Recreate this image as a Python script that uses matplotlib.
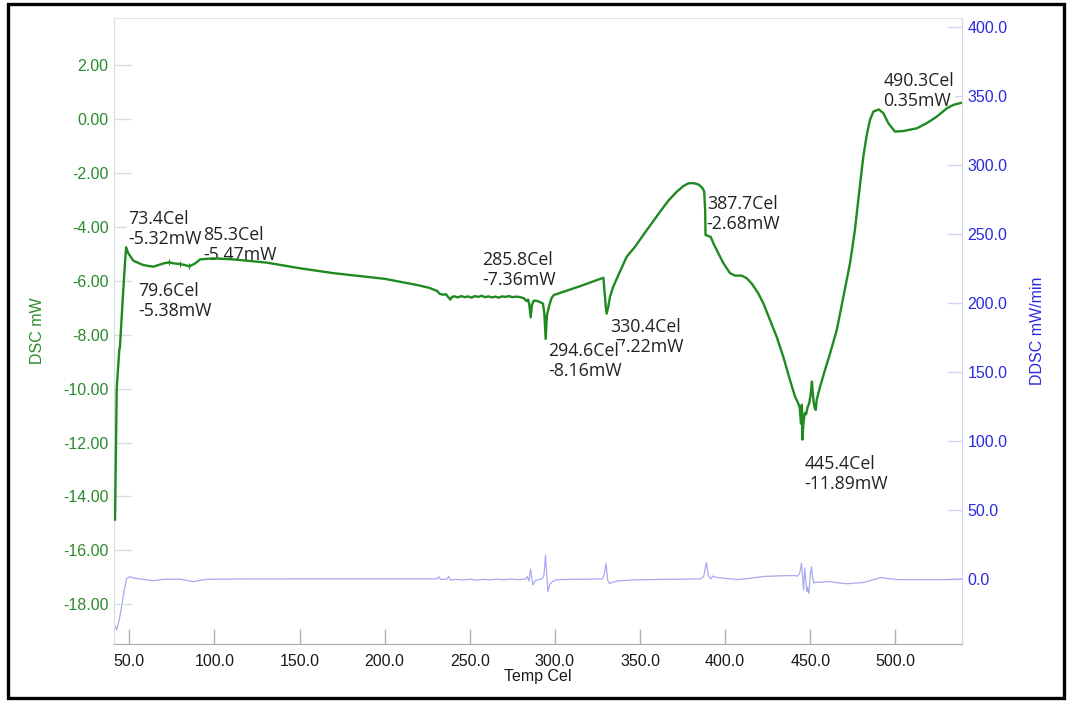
import matplotlib
matplotlib.use("Agg")
import matplotlib.pyplot as plt
from matplotlib.patches import Rectangle
from matplotlib.ticker import FixedLocator, FormatStrFormatter

# ---- DSC trace (left axis, mW) ----
dsc_temp = [41.6, 42.6, 44.1, 44.5, 46.1, 47.3, 48.1, 49.4, 52.4, 58.2, 64.1, 70.0,
            73.4, 76.5, 79.6, 82.8, 85.3, 88.6, 91.6, 99.4, 111.2, 130.8, 150.4,
            170.0, 190.0, 200.0, 209.2, 219.1, 226.0, 230.8, 232.4, 234.5, 236.0,
            237.5, 238.6, 239.5, 241.0, 243.0, 245.0, 247.0, 249.0, 251.0, 253.0,
            255.0, 257.0, 259.0, 261.0, 263.0, 265.0, 267.0, 269.0, 271.0, 273.0,
            275.0, 277.0, 279.0, 281.8, 283.3, 284.3, 285.0, 285.8, 286.5, 287.6,
            289.5, 291.6, 293.0, 293.8, 294.6, 295.3, 296.5, 298.0, 299.4, 314.0,
            328.5, 329.1, 329.9, 330.4, 331.4, 332.4, 334.3, 337.3, 342.2, 347.1,
            352.0, 356.9, 361.8, 366.7, 371.6, 375.5, 378.4, 381.3, 384.3, 386.5,
            387.7, 388.3, 388.5, 390.0, 391.6, 393.1, 396.0, 399.0, 402.9, 405.8,
            409.8, 412.7, 415.6, 419.5, 422.5, 426.4, 430.3, 434.2, 438.1, 441.1,
            443.0, 443.8, 444.3, 444.6, 444.9, 445.1, 445.4, 446.0, 446.8, 447.6,
            448.4, 449.4, 450.3, 451.0, 451.7, 452.4, 453.3, 453.8, 455.8, 458.7,
            461.7, 465.6, 469.5, 473.4, 476.2, 478.8, 481.2, 483.2, 485.1, 487.1,
            490.3, 493.0, 495.9, 499.8, 504.7, 512.6, 518.4, 524.3, 530.2, 534.1,
            539.0]
dsc_mw = [-14.87, -9.99, -8.57, -8.45, -6.71, -5.48, -4.76, -4.98, -5.26, -5.42, -5.48, -5.36,
          -5.32, -5.36, -5.38, -5.42, -5.47, -5.36, -5.21, -5.17, -5.21, -5.33, -5.54,
          -5.72, -5.86, -5.93, -6.04, -6.16, -6.26, -6.38, -6.49, -6.52, -6.50,
          -6.62, -6.70, -6.60, -6.58, -6.62, -6.57, -6.61, -6.58, -6.63, -6.57,
          -6.60, -6.56, -6.61, -6.58, -6.62, -6.59, -6.63, -6.58, -6.60, -6.57,
          -6.61, -6.59, -6.60, -6.65, -6.75, -6.70, -6.90, -7.36, -6.90, -6.74,
          -6.75, -6.80, -6.85, -7.20, -8.16, -7.30, -6.96, -6.65, -6.53, -6.22,
          -5.89, -6.35, -6.96, -7.22, -6.96, -6.59, -6.22, -5.79, -5.11, -4.74,
          -4.30, -3.87, -3.44, -3.03, -2.70, -2.49, -2.39, -2.38, -2.43, -2.55,
          -2.68, -3.40, -4.30, -4.34, -4.38, -4.61, -4.98, -5.35, -5.72, -5.81,
          -5.81, -5.91, -6.10, -6.47, -6.84, -7.46, -8.08, -8.82, -9.68, -10.30,
          -10.55, -10.70, -11.10, -11.30, -10.80, -10.60, -11.89, -11.30, -10.90, -10.95,
          -10.70, -10.55, -10.20, -9.74, -10.30, -10.67, -10.79, -10.42, -9.93, -9.31,
          -8.69, -7.83, -6.59, -5.35, -4.15, -2.70, -1.40, -0.60, -0.04, 0.27,
          0.35, 0.21, -0.16, -0.47, -0.45, -0.35, -0.16, 0.08, 0.39, 0.52,
          0.60]

# ---- DDSC trace (right axis, mW/min) ----
ddsc_temp = [41.0, 42.6, 44.0, 45.5, 47.0, 48.5, 50.4, 53.0, 58.0, 64.1, 70.0, 80.0,
             87.6, 95.0, 110.0, 150.0, 200.0, 230.8, 231.8, 232.8, 236.5, 237.6,
             238.6, 242.0, 246.0, 250.0, 254.0, 258.0, 262.0, 266.0, 270.0, 274.0,
             278.0, 282.5, 283.8, 284.8, 285.7, 286.4, 287.1, 288.5, 291.5, 292.8,
             293.6, 294.5, 295.3, 295.9, 297.0, 298.5, 301.0, 310.0, 320.0, 328.0,
             329.2, 330.0, 330.6, 331.0, 332.0, 336.7, 345.0, 360.0, 375.0, 385.7,
             387.5, 389.0, 390.2, 391.6, 392.6, 395.5, 403.4, 407.3, 415.1, 423.0,
             432.0, 440.6, 442.6, 443.8, 444.9, 445.5, 446.1, 446.8, 447.5, 448.0,
             448.4, 449.2, 450.0, 450.7, 451.4, 452.1, 452.8, 454.5, 456.3, 459.0,
             462.2, 467.0, 472.0, 477.0, 481.8, 486.0, 491.6, 496.0, 501.4, 515.0,
             530.8, 539.0]
ddsc_val = [-33.0, -37.0, -30.0, -20.0, -8.0, 0.4, 1.6, 0.5, -0.3, -1.3, -0.3, -0.2,
            -2.0, -0.3, -0.1, 0.0, 0.0, 0.0, 1.6, -0.3, -0.2, 1.8,
            -0.8, -0.3, -0.8, -0.2, -0.9, -0.3, -0.7, -0.2, -0.6, -0.1,
            -0.5, -0.2, 1.6, -1.5, 7.0, 1.0, -4.4, -1.0, -0.3, 0.5,
            3.0, 17.3, 2.0, -9.2, -4.0, -2.0, -0.6, -0.3, -0.2, 0.0,
            4.0, 11.3, 5.0, -1.0, -3.2, -1.5, -0.8, -0.4, -0.2, 0.0,
            2.0, 12.0, 2.0, 0.0, 2.0, 1.0, 0.0, -0.5, 0.5, 1.8,
            2.2, 2.5, 2.0, 4.0, 11.3, 2.0, -8.0, 8.0, -2.0, -9.0,
            -6.0, -10.5, 2.0, 8.9, 1.0, -3.0, -2.5, -2.5, -2.5, -2.0,
            -2.0, -3.0, -3.5, -3.0, -2.5, -1.0, 1.0, 0.2, -0.5, -0.5,
            -0.5, 0.0]

# ---- labelled peaks ----
peak_temp = [73.4, 79.6, 85.3, 285.8, 294.6, 330.4, 387.7, 445.4, 490.3]
peak_mw = [-5.32, -5.38, -5.47, -7.36, -8.16, -7.22, -2.68, -11.89, 0.35]
# top-left anchor of each peak label (data coordinates)
label_x = [49.2, 55.1, 93.4, 257.3, 295.9, 332.4, 389.2, 446.5, 492.9]
label_y = [-3.39, -6.05, -3.98, -4.90, -8.27, -7.37, -2.81, -12.47, 1.74]

dsc_ticks = [-18, -16, -14, -12, -10, -8, -6, -4, -2, 0, 2]
ddsc_ticks = [0, 50, 100, 150, 200, 250, 300, 350, 400]
temp_ticks = [50, 100, 150, 200, 250, 300, 350, 400, 450, 500]

plt.rcParams["axes.unicode_minus"] = False
plt.rcParams["font.family"] = ["Liberation Sans", "DejaVu Sans"]

GREEN_LINE = "#1f8a1f"
GREEN_TXT = "#2a8a2a"
BLUE_TXT = "#2a2ae0"
BLUE_LINE = "#a9a9f2"

W, H = 1072, 702
fig = plt.figure(figsize=(W / 100, H / 100), dpi=100)
L, R, T, B = 114, 961.7, 18.3, 644
ax = fig.add_axes([L / W, 1 - B / H, (R - L) / W, (B - T) / H])
ax2 = ax.twinx()
ax.set_zorder(ax2.get_zorder() + 1)
ax.patch.set_visible(False)

ax.set_xlim(41.0, 539.0)
ax.set_ylim(-19.47, 3.73)
ax2.set_ylim(-47.2, 406.5)

ax2.plot(ddsc_temp, ddsc_val, color=BLUE_LINE, lw=0.9)
ax.plot(dsc_temp, dsc_mw, color=GREEN_LINE, lw=1.7, zorder=5,
        solid_joinstyle="round", solid_capstyle="round")
ax.plot(peak_temp[:3], peak_mw[:3], linestyle="none", marker="|", ms=5,
        mew=0.8, color=GREEN_LINE, zorder=5)

n = len(peak_temp)
for i, (t, v, lx, ly) in enumerate(zip(peak_temp, peak_mw, label_x, label_y)):
    ax.text(lx, ly, f"{t:.1f}Cel\n{v:.2f}mW", ha="left", va="top",
            fontsize=12.8, family=["Open Sans", "DejaVu Sans"], color="#222222",
            linespacing=1.15, zorder=3 + (n - i) * 0.01,
            bbox=dict(facecolor="white", edgecolor="none", pad=0.5))

# axes styling
ax.spines["right"].set_visible(False)
for s in ["left", "top", "bottom"]:
    ax2.spines[s].set_visible(False)
ax.spines["top"].set_color("#dfe4ea")
ax.spines["left"].set_color("#d5dde5")
ax.spines["bottom"].set_color("#a8a8a8")
ax2.spines["right"].set_color("#d4d4f0")

ax.xaxis.set_major_locator(FixedLocator(temp_ticks))
ax.xaxis.set_major_formatter(FormatStrFormatter("%.1f"))
ax.yaxis.set_major_locator(FixedLocator(dsc_ticks))
ax.yaxis.set_major_formatter(FormatStrFormatter("%.2f"))
ax2.yaxis.set_major_locator(FixedLocator(ddsc_ticks))
ax2.yaxis.set_major_formatter(FormatStrFormatter("%.1f"))

ax.tick_params(axis="x", direction="in", length=11, width=1, color="#b0b0b0",
               labelsize=11.5, labelcolor="#1a1a1a", pad=7)
ax.tick_params(axis="y", direction="in", length=12, width=1, color="#d5dde5",
               labelsize=11.5, labelcolor=GREEN_TXT, pad=4)
ax2.tick_params(axis="y", direction="in", length=11, width=1, color="#d4d4f0",
                labelsize=11.5, labelcolor=BLUE_TXT, pad=4)

ax.set_xlabel("Temp Cel", fontsize=11.5, color="#1a1a1a", va="center")
ax.xaxis.set_label_coords((538 - L) / (R - L), (B - 677) / (B - T))
ax.set_ylabel("DSC mW", fontsize=11.5, color=GREEN_TXT, va="center")
ax.yaxis.set_label_coords((38 - L) / (R - L), 0.5)
ax2.set_ylabel("DDSC mW/min", fontsize=11.5, color=BLUE_TXT, va="center")
ax2.yaxis.set_label_coords((1037 - L) / (R - L), 0.5)

# outer frame
fig.add_artist(Rectangle((7.5 / W, 1 - 698 / H), (1064 - 7.5) / W, (698 - 4) / H,
                         transform=fig.transFigure, fill=False,
                         edgecolor="black", linewidth=2.4))

fig.savefig("out.png", dpi=100, facecolor="white")
